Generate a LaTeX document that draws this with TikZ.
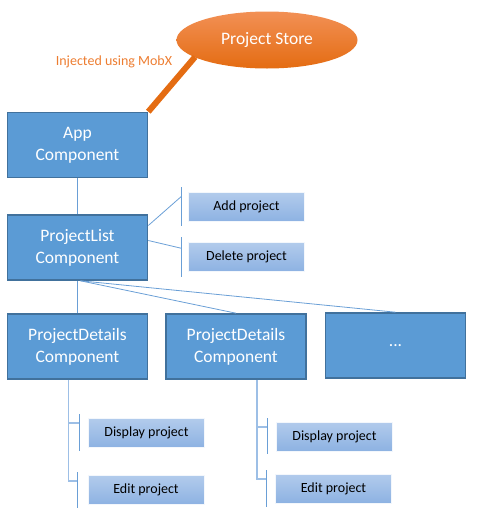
\documentclass[tikz,border=0pt]{standalone}
\usepackage{fontspec}
\setmainfont{Carlito}
\usetikzlibrary{positioning,shapes.geometric,calc}

\definecolor{compfill}{HTML}{5B9BD5}
\definecolor{compedge}{HTML}{41719C}
\definecolor{subtop}{HTML}{B2CBEC}
\definecolor{subbot}{HTML}{8DB2E2}
\definecolor{storetop}{HTML}{F29055}
\definecolor{storebot}{HTML}{E46C12}
\definecolor{mobxtext}{HTML}{ED7D31}
\definecolor{linkblue}{HTML}{6A9FD6}
\definecolor{linklight}{HTML}{9DBFE6}

\tikzset{
  comp/.style={draw=compedge, line width=1.6pt, fill=compfill, text=white,
    minimum width=140pt, minimum height=65pt, align=center,
    font=\fontsize{17.5}{22}\selectfont, inner sep=0pt},
  subitem/.style={draw=white!85!subtop, line width=0.6pt, top color=subtop,
    bottom color=subbot, text=black, minimum width=116pt, minimum height=29pt,
    font=\fontsize{14}{16}\selectfont, inner sep=0pt},
  store/.style={ellipse, top color=storetop, bottom color=storebot,
    text=white, minimum width=181pt, minimum height=57pt, inner sep=0pt,
    font=\fontsize{17.5}{20}\selectfont},
  link/.style={draw=linkblue, line width=0.8pt},
  sublink/.style={draw=linklight, line width=1.6pt},
}

\begin{document}
\begin{tikzpicture}[x=1pt, y=-1pt]
  \useasboundingbox (0,0) rectangle (477,512);

  % store and injection
  \node[store] (store) at (267,40) {Project Store};
  \node[text=mobxtext, font=\fontsize{14}{16}\selectfont] (mobx) at (114,62) {Injected using MobX};
  \coordinate (storefoot) at (195,57);

  % component tree
  \node[comp] (app) at (77.5,145) {App\\Component};
  \node[comp] (list) at (77.5,247.5) {ProjectList\\Component};
  \node[comp] (detailsA) at (77.5,346.5) {ProjectDetails\\Component};
  \node[comp] (detailsB) at (236,346.5) {ProjectDetails\\Component};
  \node[comp] (more) at (395.5,345.5) {...};

  \draw[draw=storebot, line width=6pt] (app.north east) -- (storefoot);

  % list actions
  \node[subitem] (add) at (246.5,207) {Add project};
  \node[subitem] (delete) at (246.5,257) {Delete project};
  \coordinate (addtop) at (181,187);
  \coordinate (addbot) at (181,226);
  \coordinate (deltop) at (181,237);
  \coordinate (delbot) at (181,277);

  % details actions
  \node[subitem] (showA) at (146.5,433) {Display project};
  \node[subitem] (editA) at (146,490) {Edit project};
  \node[subitem] (showB) at (334.5,436.5) {Display project};
  \node[subitem] (editB) at (333.5,488.5) {Edit project};
  \coordinate (showAtop) at (79,414);
  \coordinate (showAbot) at (79,451);
  \coordinate (editAtop) at (77,472);
  \coordinate (editAbot) at (77,508);
  \coordinate (showBtop) at (267,418);
  \coordinate (showBbot) at (267,454);
  \coordinate (editBtop) at (266,470);
  \coordinate (editBbot) at (266,507);
  \coordinate (trunkA) at (68.5,481);
  \coordinate (trunkB) at (257,479);

  % connectors
  \draw[link] (app.south) -- (list.north);
  \draw[link] (list.south) -- (detailsA.north);
  \draw[link] ([xshift=3pt]list.south) -- (detailsB.north);
  \draw[link] ([xshift=3pt]list.south) -- (more.north);
  \draw[link] ([yshift=22pt]list.east) -- ($(addtop)!0.25!(addbot)$);
  \draw[link] ([yshift=7pt]list.east) -- ($(deltop)!0.28!(delbot)$);
  \draw[link] (addtop) -- (addbot);
  \draw[link] (deltop) -- (delbot);

  \draw[sublink] (detailsA.south -| trunkA) -- (trunkA) -- (trunkA -| editAtop);
  \draw[sublink] (trunkA |- 0,423) -- (showAtop |- 0,423);
  \draw[sublink] (detailsB.south -| trunkB) -- (trunkB) -- (trunkB -| editBtop);
  \draw[sublink] (trunkB |- 0,427) -- (showBtop |- 0,427);
  \draw[link] (showAtop) -- (showAbot);
  \draw[link] (editAtop) -- (editAbot);
  \draw[link] (showBtop) -- (showBbot);
  \draw[link] (editBtop) -- (editBbot);
\end{tikzpicture}
\end{document}
